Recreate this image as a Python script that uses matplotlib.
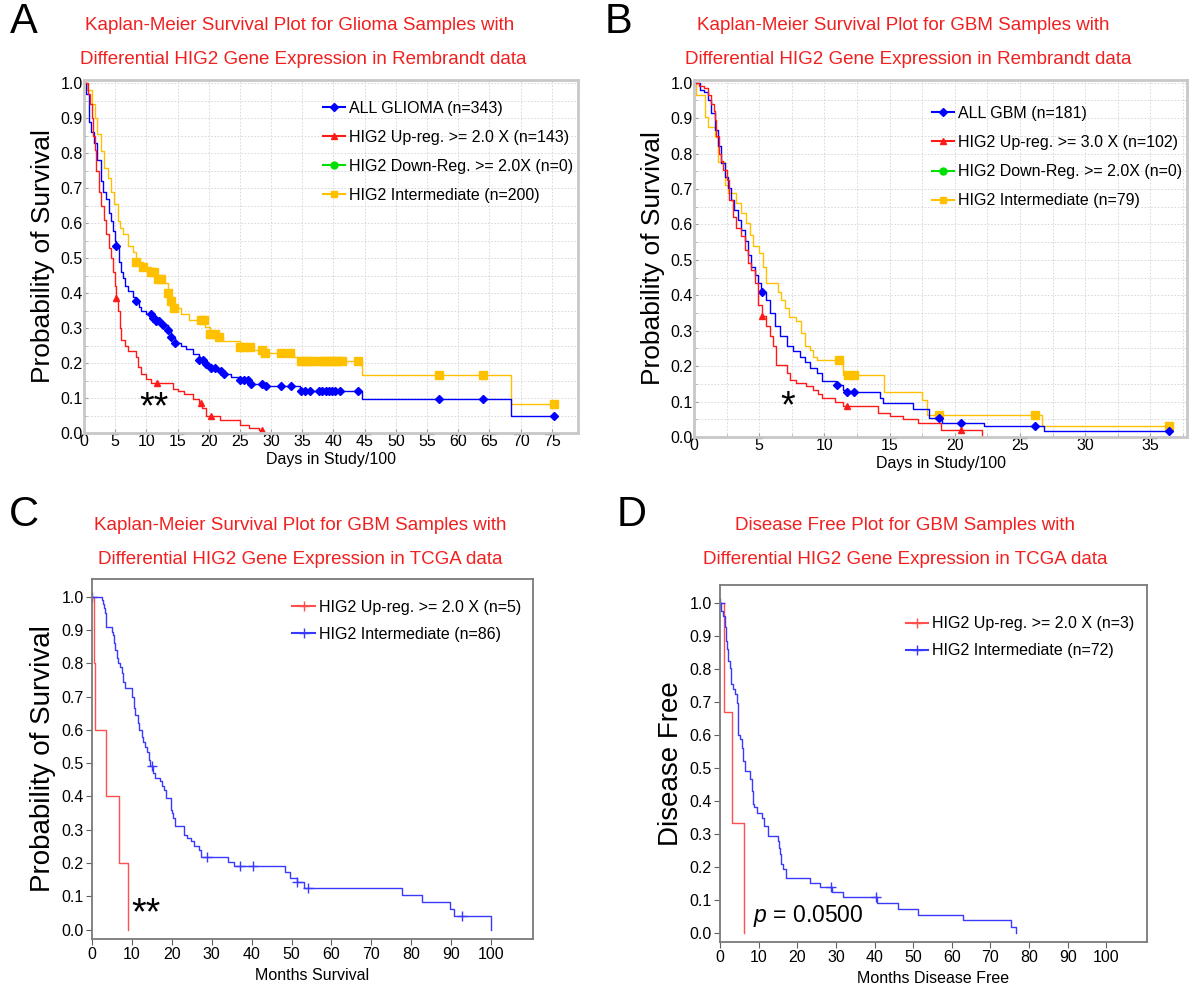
import numpy as np
import matplotlib.pyplot as plt
from matplotlib.lines import Line2D
from matplotlib.ticker import MultipleLocator

plt.rcParams['font.family'] = ['Liberation Sans', 'DejaVu Sans']
plt.rcParams['mathtext.fontset'] = 'custom'
plt.rcParams['mathtext.it'] = 'Liberation Sans:italic'
plt.rcParams['mathtext.rm'] = 'Liberation Sans'

W, H = 1193, 988

# ---------------- Panel A: Rembrandt glioma (days/100) ----------------
a_all_t = [0, 0.4, 0.8, 1.2, 1.6, 2.15, 2.7, 3.1, 3.5, 4.0, 4.3, 4.6, 4.9, 5.1, 5.6, 5.9, 6.2, 6.6, 7.0,
           7.8, 8.4, 8.8, 9.1, 10.0, 10.75, 11.6, 12.4, 13.4, 14.0, 14.6, 15.5, 16.4, 17.5, 18.5, 19.6,
           20.4, 21.3, 22.3, 23.5, 25.0, 26.6, 28.8, 34.7, 44.6, 68.5]
a_all_s = [1.0, 0.97, 0.89, 0.86, 0.83, 0.78, 0.72, 0.69, 0.67, 0.63, 0.606, 0.577, 0.55, 0.533, 0.49, 0.46,
           0.444, 0.42, 0.406, 0.39, 0.378, 0.36, 0.35, 0.34, 0.33, 0.32, 0.31, 0.295, 0.273, 0.256, 0.248,
           0.24, 0.225, 0.21, 0.197, 0.185, 0.177, 0.169, 0.16, 0.152, 0.14, 0.134, 0.121, 0.097, 0.048]
a_all_end = 75.3
a_all_cens = [5.1, 8.4, 10.7, 11.0, 11.3, 11.6, 12.1, 12.6, 13.4, 14.0, 14.6, 18.5, 19.0, 19.6, 20.4, 21.0,
              22.0, 22.4, 25.0, 25.6, 26.3, 26.7, 28.6, 29.2, 31.6, 33.2, 34.8, 35.5, 36.2, 37.6, 38.2,
              38.8, 39.3, 39.8, 40.2, 41.1, 44.0, 56.9, 63.9, 75.3]

a_up_t = [0, 0.6, 1.0, 1.3, 1.5, 1.7, 2.0, 2.4, 2.8, 3.2, 3.6, 4.0, 4.3, 4.6, 4.9, 5.1, 5.5, 5.7, 5.9, 6.5,
          7.0, 8.3, 8.7, 9.1, 9.9, 10.8, 14.2, 15.0, 16.1, 17.5, 18.5, 18.9, 19.6, 21.8, 25.0, 26.5, 28.0]
a_up_s = [1.0, 0.97, 0.94, 0.90, 0.85, 0.81, 0.75, 0.69, 0.65, 0.61, 0.57, 0.53, 0.50, 0.46, 0.42, 0.385,
          0.35, 0.30, 0.265, 0.25, 0.235, 0.217, 0.19, 0.17, 0.155, 0.142, 0.125, 0.12, 0.112, 0.098, 0.085,
          0.072, 0.05, 0.036, 0.022, 0.015, 0.01]
a_up_end = 28.5
a_up_cens = [5.1, 11.7, 18.7, 20.3, 28.5]

a_mid_t = [0, 0.5, 1.3, 1.7, 2.15, 2.7, 3.2, 3.8, 4.3, 4.8, 5.4, 5.8, 6.2, 7.0, 7.8, 8.4, 9.4, 10.8, 11.45,
           12.6, 13.4, 14.0, 14.5, 15.5, 16.9, 19.4, 20.2, 21.2, 22.3, 25.0, 26.9, 28.8, 33.6, 34.7, 44.6, 68.5]
a_mid_s = [1.0, 0.98, 0.94, 0.9, 0.853, 0.805, 0.758, 0.73, 0.69, 0.653, 0.606, 0.585, 0.568, 0.535, 0.516,
           0.49, 0.473, 0.459, 0.44, 0.428, 0.40, 0.378, 0.356, 0.34, 0.323, 0.304, 0.283, 0.273, 0.264,
           0.247, 0.237, 0.228, 0.217, 0.207, 0.166, 0.083]
a_mid_end = 75.3
a_mid_cens = [8.4, 9.4, 10.8, 11.3, 11.8, 12.4, 13.4, 14.0, 14.5, 18.7, 19.3, 20.2, 21.0, 21.7, 25.0, 25.6,
              26.6, 28.6, 29.0, 31.6, 33.0, 34.8, 35.4, 36.0, 36.6, 37.9, 38.5, 39.0, 39.6, 40.2, 40.8,
              41.3, 44.0, 56.9, 63.9, 75.3]

# ---------------- Panel B: Rembrandt GBM (days/100) ----------------
b_all_t = [0, 0.43, 0.8, 1.07, 1.33, 1.6, 1.85, 2.1, 2.35, 2.6, 2.86, 3.1, 3.4, 3.6, 3.9, 4.15, 4.4, 4.65,
           4.9, 5.1, 5.55, 5.8, 6.2, 6.6, 7.1, 7.6, 8.1, 8.5, 8.9, 9.4, 9.8, 10.9, 11.4, 11.7, 14.25, 14.5,
           16.8, 18.0, 19.0, 22.2, 26.8]
b_all_s = [1.0, 0.98, 0.975, 0.95, 0.914, 0.866, 0.82, 0.773, 0.735, 0.702, 0.67, 0.64, 0.613, 0.585,
           0.552, 0.514, 0.481, 0.458, 0.434, 0.41, 0.387, 0.35, 0.312, 0.284, 0.256, 0.242, 0.227, 0.213,
           0.195, 0.18, 0.157, 0.148, 0.132, 0.126, 0.11, 0.096, 0.079, 0.054, 0.039, 0.030, 0.016]
b_all_end = 36.4
b_all_cens = [5.25, 11.0, 11.7, 12.3, 18.8, 20.5, 26.15, 36.4]

b_up_t = [0, 0.4, 0.8, 1.07, 1.33, 1.5, 1.6, 1.7, 1.9, 2.05, 2.2, 2.5, 2.7, 3.0, 3.25, 3.6, 3.9, 4.15, 4.4,
          4.65, 4.9, 5.25, 5.55, 5.8, 6.06, 6.3, 7.1, 7.35, 7.85, 8.6, 9.1, 9.5, 9.8, 10.8, 11.4, 14.1, 15.0,
          16.0, 17.2, 18.9, 22.1]
b_up_s = [1.0, 0.99, 0.985, 0.965, 0.94, 0.92, 0.895, 0.85, 0.80, 0.78, 0.754, 0.725, 0.67, 0.622, 0.59,
          0.566, 0.528, 0.49, 0.472, 0.434, 0.373, 0.342, 0.312, 0.284, 0.256, 0.204, 0.18, 0.162, 0.152,
          0.143, 0.133, 0.12, 0.11, 0.098, 0.088, 0.068, 0.058, 0.05, 0.04, 0.02, 0.0]
b_up_end = 22.1
b_up_cens = [5.25, 11.7, 20.5]

b_mid_t = [0, 0.18, 0.82, 1.07, 1.6, 1.85, 2.35, 2.6, 3.25, 3.6, 4.0, 4.3, 4.5, 5.0, 5.3, 5.55, 6.45, 6.7,
           6.96, 7.3, 7.85, 8.2, 8.5, 8.9, 9.1, 9.4, 11.4, 14.6, 17.45, 17.9, 26.7]
b_mid_s = [1.0, 0.965, 0.904, 0.876, 0.848, 0.777, 0.711, 0.69, 0.66, 0.632, 0.603, 0.57, 0.538, 0.519,
           0.481, 0.434, 0.41, 0.387, 0.364, 0.34, 0.326, 0.293, 0.256, 0.246, 0.227, 0.218, 0.176, 0.126,
           0.105, 0.063, 0.032]
b_mid_end = 36.4
b_mid_cens = [11.1, 11.8, 12.3, 18.8, 26.15, 36.4]

# ---------------- Panel C: TCGA overall survival (months) ----------------
c_up_t = [0, 0.5, 0.7, 3.5, 6.8, 8.9]
c_up_s = [1.0, 0.8, 0.6, 0.4, 0.2, 0.0]
c_up_end = 8.9

c_mid_t = [0, 2.4, 2.8, 3.0, 3.2, 3.4, 3.6, 4.9, 5.3, 5.5, 5.7, 6.2, 6.6, 7.0, 7.4, 7.7, 8.3, 10.0, 10.4,
           10.6, 10.8, 11.6, 11.9, 12.5, 12.9, 13.3, 13.8, 14.2, 14.6, 15.4, 15.9, 17.1, 17.6, 18.0, 18.6,
           19.8, 20.0, 20.3, 20.9, 23.0, 23.7, 24.7, 25.6, 26.8, 27.3, 34.0, 35.7, 48.4, 49.6, 51.3, 53.2,
           77.7, 82.8, 89.7, 90.7, 100.0]
c_mid_s = [1.0, 0.99, 0.977, 0.965, 0.95, 0.93, 0.91, 0.895, 0.885, 0.86, 0.84, 0.815, 0.80, 0.79, 0.77,
           0.745, 0.725, 0.70, 0.69, 0.667, 0.645, 0.62, 0.60, 0.58, 0.565, 0.55, 0.535, 0.51, 0.49, 0.47,
           0.455, 0.445, 0.43, 0.42, 0.395, 0.36, 0.35, 0.335, 0.31, 0.285, 0.275, 0.265, 0.252, 0.24, 0.217,
           0.202, 0.19, 0.172, 0.155, 0.142, 0.125, 0.103, 0.083, 0.062, 0.04, 0.0]
c_mid_end = 100.0
c_mid_cens = [0.0, 15.0, 28.8, 37.0, 40.3, 51.4, 54.0, 92.7]

# ---------------- Panel D: TCGA disease free (months) ----------------
d_up_t = [0, 1.0, 3.0, 6.3]
d_up_s = [1.0, 0.667, 0.333, 0.0]
d_up_end = 6.3

d_mid_t = [0, 0.2, 0.9, 1.3, 1.55, 1.7, 2.15, 2.6, 2.85, 3.45, 3.9, 4.3, 4.6, 4.75, 5.3, 5.7, 6.0, 6.5, 7.8,
           8.2, 8.45, 8.9, 9.65, 10.8, 11.5, 12.5, 15.1, 15.35, 15.5, 15.8, 16.4, 17.2, 23.3, 25.9, 28.9,
           31.9, 40.5, 46.1, 51.3, 63.0, 75.3, 76.7]
d_mid_s = [1.0, 0.973, 0.96, 0.925, 0.884, 0.86, 0.823, 0.803, 0.753, 0.737, 0.722, 0.697, 0.631, 0.60,
           0.586, 0.56, 0.52, 0.49, 0.465, 0.43, 0.39, 0.38, 0.364, 0.348, 0.323, 0.293, 0.278, 0.258, 0.237,
           0.207, 0.192, 0.167, 0.152, 0.138, 0.124, 0.108, 0.091, 0.071, 0.054, 0.038, 0.018, 0.0]
d_mid_end = 76.7
d_mid_cens = [0.0, 28.7, 40.4]

BLUE, RED, GREEN, GOLD = '#0000ff', '#ff1a1a', '#00e000', '#ffc000'
C_BLUE, C_RED = '#3a3aff', '#ff5050'
TITLE_RED = '#f02020'


def km(ax, t, s, end, color, marker=None, cens=(), ms=5, lw=1.0, mew=1.0):
    tt = list(t) + [end]
    ss = list(s) + [s[-1]]
    ax.step(tt, ss, where='post', color=color, lw=lw)
    if len(cens):
        idx = np.searchsorted(np.array(t), cens, side='right') - 1
        ax.plot(cens, np.array(s)[idx], ls='none', marker=marker, color=color, ms=ms, mew=mew)


def box(x0, y0, x1, y1):
    return [x0 / W, 1 - y1 / H, (x1 - x0) / W, (y1 - y0) / H]


def rembrandt_style(ax, xmax, ytop, xminor):
    ax.set_xlim(0, xmax)
    ax.set_ylim(0, ytop)
    ax.xaxis.set_major_locator(MultipleLocator(5))
    ax.xaxis.set_minor_locator(MultipleLocator(xminor))
    ax.yaxis.set_minor_locator(MultipleLocator(0.05))
    ax.set_yticks(np.arange(0, 1.01, 0.1))
    ax.set_yticklabels(['%.1f' % v for v in np.arange(0, 1.01, 0.1)])
    ax.grid(True, which='both', ls=(0, (2, 2)), lw=0.6, color='#d4d4d4')
    ax.set_axisbelow(True)
    ax.tick_params(which='both', direction='in', color='#a0a0a0', labelsize=11.5, pad=1)
    ax.tick_params(which='major', length=3)
    ax.tick_params(which='minor', length=2)
    for sp in ax.spines.values():
        sp.set_color('#c8c8c8')
        sp.set_linewidth(2.0)


def tcga_style(ax):
    ax.set_xlim(0, 110.5)
    ax.set_ylim(-0.028, 1.053)
    ax.set_xticks(np.arange(0, 101, 10))
    ax.set_yticks(np.arange(0, 1.01, 0.1))
    ax.set_yticklabels(['%.1f' % v for v in np.arange(0, 1.01, 0.1)])
    ax.tick_params(direction='out', length=4, color='#606060', labelsize=11.5, pad=2)
    for sp in ax.spines.values():
        sp.set_color('#7a7a7a')
        sp.set_linewidth(1.3)


fig = plt.figure(figsize=(W / 100, H / 100), dpi=100)

leg_kw = dict(loc='upper left', frameon=False, fontsize=11.5, handlelength=1.4,
              handletextpad=0.25, borderaxespad=0)

# ---- A ----
axA = fig.add_axes(box(84, 80, 578, 433))
rembrandt_style(axA, 79.2, 1.0086, 5)
km(axA, a_mid_t, a_mid_s, a_mid_end, GOLD, 's', a_mid_cens, ms=5.5)
km(axA, a_all_t, a_all_s, a_all_end, BLUE, 'D', a_all_cens, ms=4)
km(axA, a_up_t, a_up_s, a_up_end, RED, '^', a_up_cens, ms=5)
axA.set_xlabel('Days in Study/100', fontsize=11.5, labelpad=2)
axA.set_ylabel('Probability of Survival', fontsize=19, labelpad=4)
hA = [Line2D([], [], color=BLUE, marker='D', ms=4),
      Line2D([], [], color=RED, marker='^', ms=5),
      Line2D([], [], color=GREEN, marker='o', ms=5),
      Line2D([], [], color=GOLD, marker='s', ms=5)]
axA.legend(hA, ['ALL GLIOMA (n=343)', 'HIG2 Up-reg. >= 2.0 X (n=143)',
                'HIG2 Down-Reg. >= 2.0X (n=0)', 'HIG2 Intermediate (n=200)'],
           bbox_to_anchor=(0.47, 0.96), labelspacing=0.88, **leg_kw)
axA.text(11.2, 0.072, '**', fontsize=27, ha='center', va='center')

# ---- B ----
axB = fig.add_axes(box(694, 80, 1187, 437))
rembrandt_style(axB, 37.8, 1.0076, 2.5)
km(axB, b_mid_t, b_mid_s, b_mid_end, GOLD, 's', b_mid_cens, ms=5.5)
km(axB, b_all_t, b_all_s, b_all_end, BLUE, 'D', b_all_cens, ms=4)
km(axB, b_up_t, b_up_s, b_up_end, RED, '^', b_up_cens, ms=5)
axB.set_xlabel('Days in Study/100', fontsize=11.5, labelpad=2)
axB.set_ylabel('Probability of Survival', fontsize=19, labelpad=4)
axB.legend(hA, ['ALL GBM (n=181)', 'HIG2 Up-reg. >= 3.0 X (n=102)',
                'HIG2 Down-Reg. >= 2.0X (n=0)', 'HIG2 Intermediate (n=79)'],
           bbox_to_anchor=(0.47, 0.945), labelspacing=0.88, **leg_kw)
axB.text(7.2, 0.085, '*', fontsize=27, ha='center', va='center')

# ---- C ----
axC = fig.add_axes(box(92, 579, 533, 939))
tcga_style(axC)
km(axC, c_up_t, c_up_s, c_up_end, C_RED)
km(axC, c_mid_t, c_mid_s, c_mid_end, C_BLUE, '+', c_mid_cens, ms=7)
axC.set_xlabel('Months Survival', fontsize=11.5, labelpad=4)
axC.set_ylabel('Probability of Survival', fontsize=20, labelpad=4)
hC = [Line2D([], [], color=C_RED, marker='+', ms=7),
      Line2D([], [], color=C_BLUE, marker='+', ms=7)]
axC.legend(hC, ['HIG2 Up-reg. >= 2.0 X (n=5)', 'HIG2 Intermediate (n=86)'],
           bbox_to_anchor=(0.44, 0.96), labelspacing=0.75, **leg_kw)
axC.text(13.5, 0.045, '**', fontsize=27, ha='center', va='center')

# ---- D ----
axD = fig.add_axes(box(720, 585, 1147, 942))
tcga_style(axD)
km(axD, d_up_t, d_up_s, d_up_end, C_RED)
km(axD, d_mid_t, d_mid_s, d_mid_end, C_BLUE, '+', d_mid_cens, ms=7)
axD.set_xlabel('Months Disease Free', fontsize=11.5, labelpad=4)
axD.set_ylabel('Disease Free', fontsize=20, labelpad=4)
axD.legend(hC, ['HIG2 Up-reg. >= 2.0 X (n=3)', 'HIG2 Intermediate (n=72)'],
           bbox_to_anchor=(0.42, 0.93), labelspacing=0.75, **leg_kw)
axD.text(8.5, 0.05, '$p$ = 0.0500', fontsize=16.5, ha='left', va='center')

# ---- titles and panel letters ----
def ftext(x, y, s, **kw):
    fig.text(x / W, 1 - y / H, s, ha='center', va='center', **kw)

tkw = dict(fontsize=13.5, color=TITLE_RED)
ftext(300, 25, 'Kaplan-Meier Survival Plot for Glioma Samples with', **tkw)
ftext(303, 60, 'Differential HIG2 Gene Expression in Rembrandt data', **tkw)
ftext(903, 25, 'Kaplan-Meier Survival Plot for GBM Samples with', **tkw)
ftext(908, 60, 'Differential HIG2 Gene Expression in Rembrandt data', **tkw)
ftext(300, 525, 'Kaplan-Meier Survival Plot for GBM Samples with', **tkw)
ftext(300, 560, 'Differential HIG2 Gene Expression in TCGA data', **tkw)
ftext(905, 525, 'Disease Free Plot for GBM Samples with', **tkw)
ftext(905, 560, 'Differential HIG2 Gene Expression in TCGA data', **tkw)

lkw = dict(fontsize=30)
ftext(24, 22, 'A', **lkw)
ftext(618, 22, 'B', **lkw)
ftext(24, 515, 'C', **lkw)
ftext(632, 515, 'D', **lkw)

fig.savefig('out.png', dpi=100)
